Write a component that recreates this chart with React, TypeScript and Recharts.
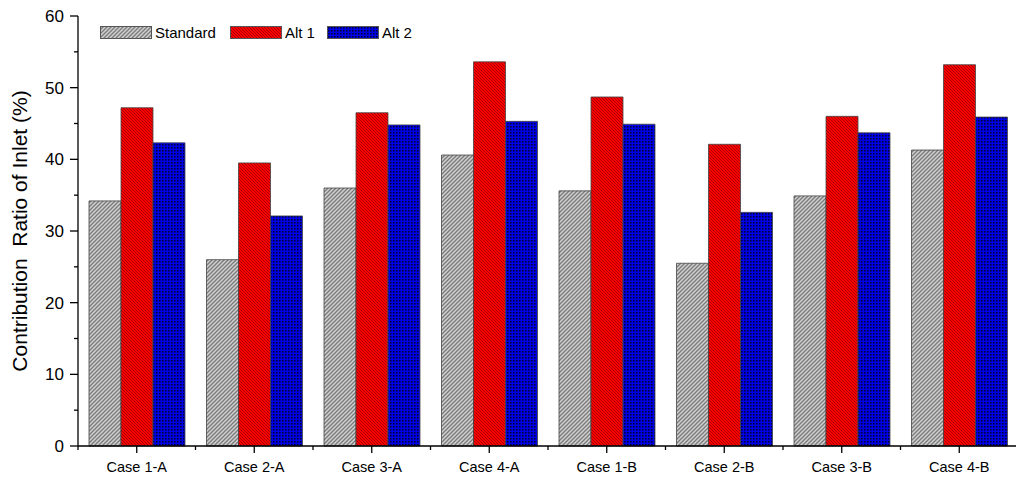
import { BarChart, Bar, XAxis, YAxis, Legend } from "recharts";

const categories = ["Case 1-A", "Case 2-A", "Case 3-A", "Case 4-A", "Case 1-B", "Case 2-B", "Case 3-B", "Case 4-B"];
const standard = [34.2, 26.0, 36.0, 40.6, 35.6, 25.5, 34.9, 41.3];
const alt1 = [47.2, 39.5, 46.5, 53.6, 48.7, 42.1, 46.0, 53.2];
const alt2 = [42.3, 32.1, 44.8, 45.3, 44.9, 32.6, 43.7, 45.9];
const yTicks = [0, 5, 10, 15, 20, 25, 30, 35, 40, 45, 50, 55, 60];

const series = [
  { key: "standard", name: "Standard", fill: "url(#patStd)" },
  { key: "alt1", name: "Alt 1", fill: "url(#patAlt1)" },
  { key: "alt2", name: "Alt 2", fill: "url(#patAlt2)" },
];

const chartData = categories.map((c, i) => ({
  name: c,
  standard: standard[i],
  alt1: alt1[i],
  alt2: alt2[i],
}));

const FONT = "'Liberation Sans', Arial, sans-serif";

// tick x arrives 8px left of the axis line (tickSize + tickMargin)
function YTick(props: any) {
  const { x, y, payload } = props;
  const major = payload.value % 10 === 0;
  return (
    <g>
      <line x1={x + (major ? 0 : 4)} x2={x + 8} y1={y} y2={y} stroke="#000" strokeWidth={1.3} />
      {major && (
        <text x={x - 6} y={y} dy={6} textAnchor="end" fontSize={17} fontFamily={FONT} fill="#000">
          {payload.value}
        </text>
      )}
    </g>
  );
}

function XTick(props: any) {
  const { x, y, payload, index } = props;
  const half = payload.offset ?? 58.75;
  return (
    <g>
      <line x1={x} x2={x} y1={y - 8} y2={y - 1} stroke="#000" strokeWidth={1.3} />
      <line x1={x + half} x2={x + half} y1={y - 8} y2={y - 4} stroke="#000" strokeWidth={1.3} />
      {index === 0 && <line x1={x - half} x2={x - half} y1={y - 8} y2={y - 4} stroke="#000" strokeWidth={1.3} />}
      <text x={x} y={y} dy={18} textAnchor="middle" fontSize={14.5} fontFamily={FONT} fill="#000">
        {payload.value}
      </text>
    </g>
  );
}

function LegendContent() {
  return (
    <div style={{ display: "flex", alignItems: "center", fontFamily: FONT, fontSize: 15 }}>
      {series.map((s, i) => (
        <div key={s.key} style={{ display: "flex", alignItems: "center", marginRight: i === 0 ? 14 : 12 }}>
          <svg width={52} height={13} style={{ marginRight: 3 }}>
            <rect x={0.5} y={0.5} width={51} height={12} fill={s.fill} stroke="#555" />
          </svg>
          <span>{s.name}</span>
        </div>
      ))}
    </div>
  );
}

export default function App() {
  return (
    <div style={{ width: 1016, height: 472 }}>
      <BarChart
        width={1016}
        height={472}
        data={chartData}
        margin={{ top: 8, right: 6, bottom: 0, left: 0 }}
        barGap={0}
        barCategoryGap={11}
      >
        <defs>
          <pattern id="patStd" patternUnits="userSpaceOnUse" width={4} height={4}>
            <rect width={4} height={4} fill="#d0d0d0" />
            <path d="M0,4 L4,0 M-1,1 L1,-1 M3,5 L5,3" stroke="#7a7a7a" strokeWidth={1.3} />
          </pattern>
          <pattern id="patAlt1" patternUnits="userSpaceOnUse" width={3} height={3}>
            <rect width={3} height={3} fill="#ff0000" />
            <path d="M0,0 L3,3 M-1,2 L1,4 M2,-1 L4,1" stroke="#a00000" strokeWidth={0.9} />
          </pattern>
          <pattern id="patAlt2" patternUnits="userSpaceOnUse" width={3} height={3}>
            <rect width={3} height={3} fill="#0000e6" />
            <rect x={1} y={1} width={1.5} height={1.5} fill="#000028" />
          </pattern>
        </defs>
        <XAxis
          dataKey="name"
          height={34}
          axisLine={{ stroke: "#000", strokeWidth: 1.3 }}
          tickLine={false}
          tick={<XTick />}
          interval={0}
        />
        <XAxis xAxisId="top" orientation="top" dataKey="name" height={0} tick={false} tickLine={false} axisLine={{ stroke: "#000", strokeWidth: 1.3 }} />
        <YAxis
          width={70}
          domain={[0, 60]}
          ticks={yTicks}
          interval={0}
          axisLine={{ stroke: "#000", strokeWidth: 1.3 }}
          tickLine={false}
          tick={<YTick />}
          label={({ viewBox }: any) => (
            <text
              x={viewBox.x + 11}
              y={viewBox.y + viewBox.height / 2}
              transform={`rotate(-90, ${viewBox.x + 11}, ${viewBox.y + viewBox.height / 2})`}
              textAnchor="middle"
              dominantBaseline="central"
              fontSize={21}
              fontFamily={FONT}
              fill="#000"
              style={{ whiteSpace: "pre" }}
            >
              {"Contribution  Ratio of Inlet (%)"}
            </text>
          )}
        />
        <YAxis yAxisId="right" orientation="right" width={0} domain={[0, 60]} tick={false} tickLine={false} axisLine={{ stroke: "#000", strokeWidth: 1.3 }} />
        <Legend
          verticalAlign="middle"
          layout="horizontal"
          content={<LegendContent />}
          wrapperStyle={{ top: 16, left: 92, width: "auto" }}
        />
        {series.map((s) => (
          <Bar key={s.key} dataKey={s.key} name={s.name} fill={s.fill} stroke="#444" strokeWidth={0.8} isAnimationActive={false} />
        ))}
      </BarChart>
    </div>
  );
}
